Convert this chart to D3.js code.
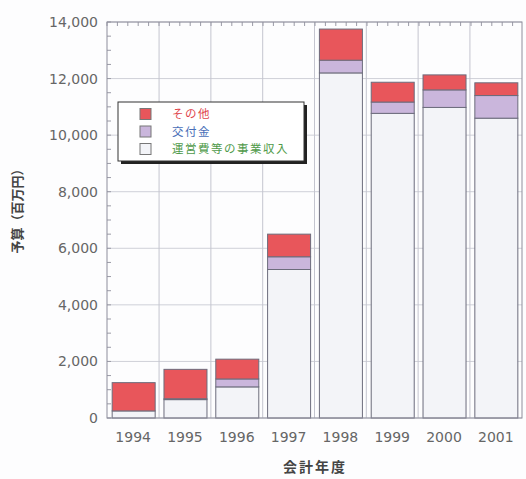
<!DOCTYPE html>
<html>
<head>
<meta charset="utf-8">
<script src="https://cdn.jsdelivr.net/npm/d3@7"></script>
<style>
  body { margin: 0; background: #fdfdfe; }
  svg { display: block; }
</style>
</head>
<body>
<div id="chart"></div>
<script>
const years = ["1994", "1995", "1996", "1997", "1998", "1999", "2000", "2001"];
const jigyo = [250, 650, 1100, 5250, 12200, 10770, 10980, 10600];   // 運営費等の事業収入
const koufu = [0, 30, 280, 450, 450, 400, 620, 800];                // 交付金
const sonota = [1000, 1040, 700, 800, 1100, 700, 530, 450];         // その他
const yTicks = [0, 2000, 4000, 6000, 8000, 10000, 12000, 14000];

const seriesKeys = ["jigyo", "koufu", "sonota"];
const seriesNames = { jigyo: "運営費等の事業収入", koufu: "交付金", sonota: "その他" };
const fills = { jigyo: "#f3f4f8", koufu: "#cab6dc", sonota: "#e8565b" };
const textColors = { sonota: "#e0454c", koufu: "#4a6fb8", jigyo: "#4f9a4a" };

const W = 526, H = 479;
const margin = { top: 22, right: 4, bottom: 61, left: 107 };

const rows = years.map((y, i) => ({ year: y, jigyo: jigyo[i], koufu: koufu[i], sonota: sonota[i] }));
const stacked = d3.stack().keys(seriesKeys)(rows);

const svg = d3.select("#chart").append("svg")
    .attr("width", W)
    .attr("height", H);

const x = d3.scaleBand()
    .domain(years)
    .range([margin.left, W - margin.right])
    .paddingInner(0.17)
    .paddingOuter(0.09);

const y = d3.scaleLinear()
    .domain([0, 14000])
    .range([H - margin.bottom, margin.top]);

const x0 = margin.left, x1 = W - margin.right;
const yTop = margin.top, yBot = H - margin.bottom;

// grid
svg.append("g")
    .selectAll("line")
    .data(yTicks)
    .enter().append("line")
    .attr("x1", x0).attr("x2", x1)
    .attr("y1", d => y(d)).attr("y2", d => y(d))
    .attr("stroke", "#cfd0d8")
    .attr("stroke-width", 1);

const gap = x.step() * x.paddingInner() / 2;
svg.append("g")
    .selectAll("line")
    .data(years.slice(1))
    .enter().append("line")
    .attr("x1", d => x(d) - gap).attr("x2", d => x(d) - gap)
    .attr("y1", yTop).attr("y2", yBot)
    .attr("stroke", "#c4c5cf")
    .attr("stroke-width", 1);

// minor ticks on the left and the top
svg.append("g")
    .selectAll("line")
    .data(d3.range(0, 14001, 500))
    .enter().append("line")
    .attr("x1", x0).attr("x2", x0 + 4)
    .attr("y1", d => y(d)).attr("y2", d => y(d))
    .attr("stroke", "#9a9aa6");

svg.append("g")
    .selectAll("line")
    .data(d3.range(x0, x1, 10.4))
    .enter().append("line")
    .attr("x1", d => d).attr("x2", d => d)
    .attr("y1", yTop).attr("y2", yTop + 4)
    .attr("stroke", "#9a9aa6");

// bars
svg.append("g")
    .selectAll("g")
    .data(stacked)
    .enter().append("g")
    .attr("fill", d => fills[d.key])
    .selectAll("rect")
    .data(d => d)
    .enter().append("rect")
    .attr("x", d => x(d.data.year) + 0.5)
    .attr("width", x.bandwidth())
    .attr("y", d => y(d[1]))
    .attr("height", d => y(d[0]) - y(d[1]))
    .attr("stroke", "#6c6c7c")
    .attr("stroke-width", 1);

// frame
svg.append("rect")
    .attr("x", x0).attr("y", yTop)
    .attr("width", x1 - x0).attr("height", yBot - yTop)
    .attr("fill", "none")
    .attr("stroke", "#8e8e9c")
    .attr("stroke-width", 1);

// y tick labels
svg.append("g")
    .selectAll("text")
    .data(yTicks)
    .enter().append("text")
    .attr("x", 98)
    .attr("y", d => y(d))
    .attr("dy", "0.36em")
    .attr("text-anchor", "end")
    .attr("fill", "#666")
    .style("font-family", "DejaVu Sans")
    .style("font-size", "14px")
    .text(d => d3.format(",")(d));

// x tick labels
svg.append("g")
    .selectAll("text")
    .data(years)
    .enter().append("text")
    .attr("x", d => x(d) + x.bandwidth() / 2)
    .attr("y", 442)
    .attr("text-anchor", "middle")
    .attr("fill", "#666")
    .style("font-family", "DejaVu Sans")
    .style("font-size", "14px")
    .text(d => d);

// axis titles
svg.append("text")
    .attr("x", 315)
    .attr("y", 472)
    .attr("text-anchor", "middle")
    .attr("fill", "#444")
    .style("font-family", "Noto Sans CJK JP")
    .style("font-size", "14px")
    .style("font-weight", "bold")
    .style("letter-spacing", "2px")
    .text("会計年度");

svg.append("text")
    .attr("transform", "translate(22,208) rotate(-90)")
    .attr("text-anchor", "middle")
    .attr("fill", "#444")
    .style("font-family", "Noto Sans CJK JP")
    .style("font-size", "13px")
    .style("font-weight", "bold")
    .text("予算（百万円）");

// legend
const legend = svg.append("g").attr("transform", "translate(118,102)");
legend.append("rect")
    .attr("x", 3).attr("y", 3)
    .attr("width", 186).attr("height", 59)
    .attr("fill", "#222");
legend.append("rect")
    .attr("width", 186).attr("height", 59)
    .attr("fill", "#fff")
    .attr("stroke", "#333")
    .attr("stroke-width", 1);

const legendOrder = ["sonota", "koufu", "jigyo"];
const item = legend.selectAll(".item")
    .data(legendOrder)
    .enter().append("g")
    .attr("class", "item")
    .attr("transform", (d, i) => `translate(0,${12 + i * 17.5})`);

item.append("rect")
    .attr("x", 22).attr("y", -5.5)
    .attr("width", 11).attr("height", 11)
    .attr("fill", d => fills[d])
    .attr("stroke", "#777");

item.append("text")
    .attr("x", 54)
    .attr("dy", "0.36em")
    .attr("fill", d => textColors[d])
    .style("font-family", "Noto Sans CJK JP")
    .style("font-size", "11.5px")
    .style("letter-spacing", "1.5px")
    .text(d => seriesNames[d]);
</script>
</body>
</html>
